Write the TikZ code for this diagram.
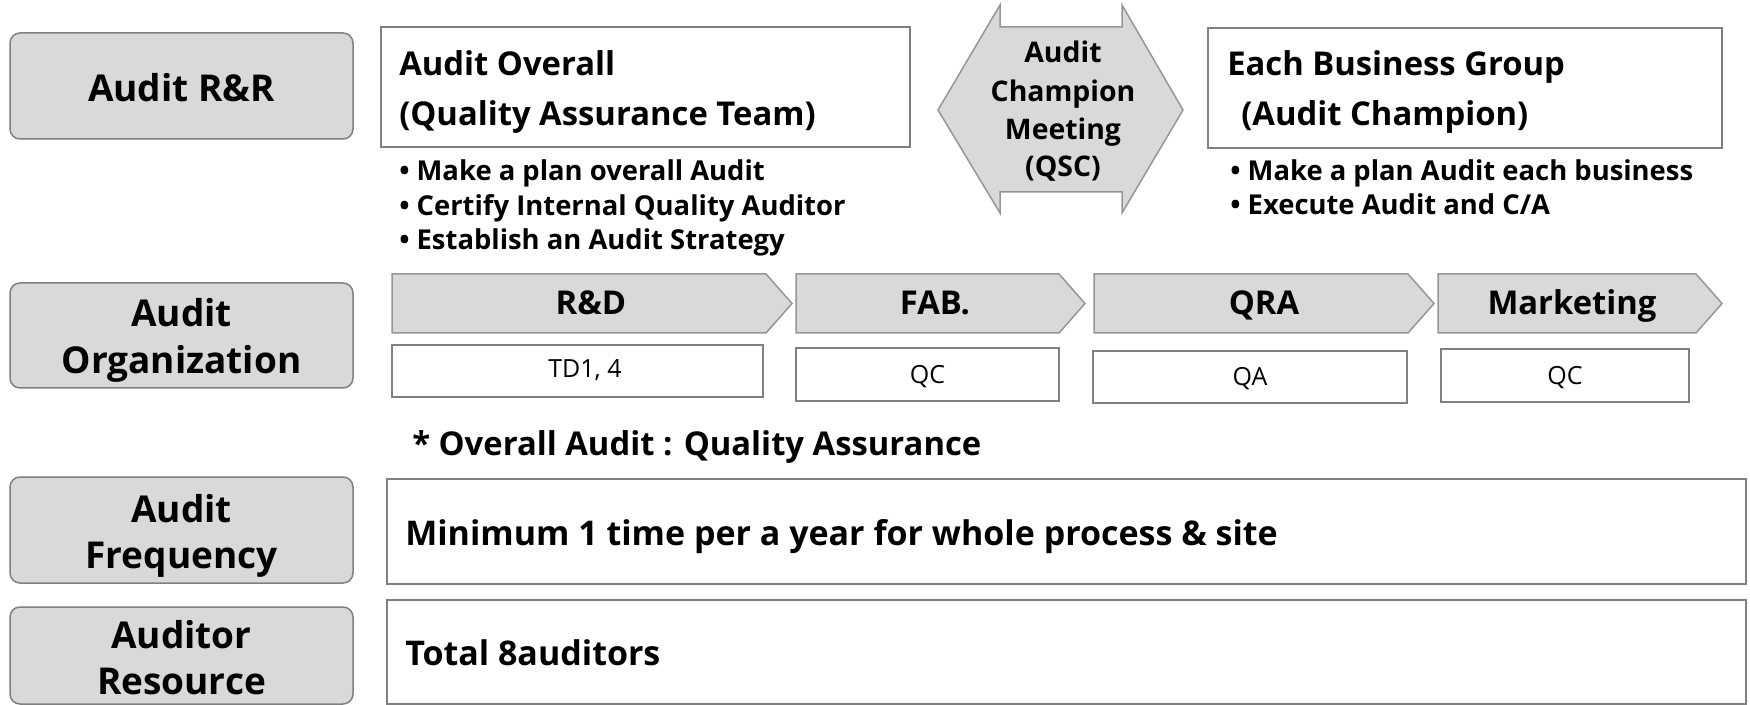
\documentclass[tikz,border=0pt]{standalone}
\usepackage{fontspec}
\setmainfont{Open Sans}

\definecolor{boxgray}{RGB}{217,217,217}
\definecolor{linegray}{RGB}{128,128,128}
\definecolor{arrowgray}{RGB}{150,150,150}

\tikzset{every picture/.style={line width=0.75pt}}
\tikzset{
  labelbox/.style={draw=linegray,fill=boxgray,rounded corners=5pt},
  whitebox/.style={draw=linegray,fill=white},
  arrowbox/.style={draw=arrowgray,fill=boxgray},
  lbl/.style={font=\fontsize{18.5}{22}\selectfont\bfseries},
  hdr/.style={font=\fontsize{16.4}{20}\selectfont\bfseries},
  bul/.style={font=\fontsize{13.7}{17}\selectfont\bfseries},
  qsc/.style={font=\fontsize{14.2}{17}\selectfont\bfseries},
  big/.style={font=\fontsize{17}{20}\selectfont\bfseries},
  sub/.style={font=\fontsize{12.5}{15}\selectfont},
}

\begin{document}
\begin{tikzpicture}[x=0.5pt,y=0.5pt,yscale=-1,xscale=1]
		%set diagram left start at 0, and has height of 705
		\useasboundingbox (0,0) rectangle (1750,705);

		%Rounded Rect (row titles)
		\draw [labelbox] (10,33) rectangle (353,139) ;
		\draw [labelbox] (10,283) rectangle (353,388) ;
		\draw [labelbox] (10,477) rectangle (353,583) ;
		\draw [labelbox] (10,607) rectangle (353,704) ;

		%Shape: Rectangle
		\draw [whitebox] (381,27) rectangle (910,147) ;
		%Shape: Rectangle
		\draw [whitebox] (1208,28) rectangle (1722,148) ;

		%Shape: Left Right Arrow
		\draw [arrowbox] (938,110) -- (1000,5) -- (1000,27) -- (1122,27) -- (1122,5) -- (1183,110) -- (1122,213) -- (1122,192) -- (1000,192) -- (1000,213) -- cycle ;

		%Shape: Pentagon
		\draw [arrowbox] (392,274) -- (766,274) -- (792,303.5) -- (766,333) -- (392,333) -- cycle ;
		%Shape: Pentagon
		\draw [arrowbox] (796,274) -- (1059,274) -- (1085,303.5) -- (1059,333) -- (796,333) -- cycle ;
		%Shape: Pentagon
		\draw [arrowbox] (1094,274) -- (1408,274) -- (1434,303.5) -- (1408,333) -- (1094,333) -- cycle ;
		%Shape: Pentagon
		\draw [arrowbox] (1438,274) -- (1696,274) -- (1722,303.5) -- (1696,333) -- (1438,333) -- cycle ;

		%Shape: Rectangle
		\draw [whitebox] (392,345) rectangle (763,397) ;
		%Shape: Rectangle
		\draw [whitebox] (796,348) rectangle (1059,401) ;
		%Shape: Rectangle
		\draw [whitebox] (1093,351) rectangle (1407,403) ;
		%Shape: Rectangle
		\draw [whitebox] (1441,349) rectangle (1689,402) ;

		%Shape: Rectangle
		\draw [whitebox] (387,479) rectangle (1746,584) ;
		%Shape: Rectangle
		\draw [whitebox] (387,600) rectangle (1746,704) ;

		% Text Node
		\draw (181.5,102) node (rr) [anchor=base][inner sep=0.75pt]  [lbl]  {Audit R\&R};
		% Text Node
		\draw (181.5,327) node (orgA) [anchor=base][inner sep=0.75pt]  [lbl]  {Audit};
		% Text Node
		\draw (181.5,374) node (orgB) [anchor=base][inner sep=0.75pt]  [lbl]  {Organization};
		% Text Node
		\draw (181.5,522) node (freqA) [anchor=base][inner sep=0.75pt]  [lbl]  {Audit};
		% Text Node
		\draw (181.5,568) node (freqB) [anchor=base][inner sep=0.75pt]  [lbl]  {Frequency};
		% Text Node
		\draw (181.5,648) node (resA) [anchor=base][inner sep=0.75pt]  [lbl]  {Auditor};
		% Text Node
		\draw (181.5,694) node (resB) [anchor=base][inner sep=0.75pt]  [lbl]  {Resource};

		% Text Node
		\draw (397,76) node (qaA) [anchor=base west][inner sep=0.75pt]  [hdr]  {Audit Overall};
		% Text Node
		\draw (397,126) node (qaB) [anchor=base west][inner sep=0.75pt]  [hdr]  {(Quality Assurance Team)};
		% Text Node
		\draw (397,181) node (qa1) [anchor=base west][inner sep=0.75pt]  [bul]  {• Make a plan overall Audit};
		% Text Node
		\draw (397,216) node (qa2) [anchor=base west][inner sep=0.75pt]  [bul]  {• Certify Internal Quality Auditor};
		% Text Node
		\draw (397,250) node (qa3) [anchor=base west][inner sep=0.75pt]  [bul]  {• Establish an Audit Strategy};

		% Text Node
		\draw (1063,63) node (qscA) [anchor=base][inner sep=0.75pt]  [qsc]  {Audit};
		% Text Node
		\draw (1063,102) node (qscB) [anchor=base][inner sep=0.75pt]  [qsc]  {Champion};
		% Text Node
		\draw (1063,140) node (qscC) [anchor=base][inner sep=0.75pt]  [qsc]  {Meeting};
		% Text Node
		\draw (1063,177) node (qscD) [anchor=base][inner sep=0.75pt]  [qsc]  {(QSC)};

		% Text Node
		\draw (1225,76) node (bgA) [anchor=base west][inner sep=0.75pt]  [hdr]  {Each Business Group};
		% Text Node
		\draw (1239,126) node (bgB) [anchor=base west][inner sep=0.75pt]  [hdr]  {(Audit Champion)};
		% Text Node
		\draw (1228,181) node (bg1) [anchor=base west][inner sep=0.75pt]  [bul]  {• Make a plan Audit each business};
		% Text Node
		\draw (1228,215) node (bg2) [anchor=base west][inner sep=0.75pt]  [bul]  {• Execute Audit and C/A};

		% Text Node
		\draw (591,315) node (rnd) [anchor=base][inner sep=0.75pt]  [hdr]  {R\&D};
		% Text Node
		\draw (935,315) node (fab) [anchor=base][inner sep=0.75pt]  [hdr]  {FAB.};
		% Text Node
		\draw (1264,315) node (qra) [anchor=base][inner sep=0.75pt]  [hdr]  {QRA};
		% Text Node
		\draw (1572,315) node (mkt) [anchor=base][inner sep=0.75pt]  [hdr]  {Marketing};

		% Text Node
		\draw (585,378) node (rndsub) [anchor=base][inner sep=0.75pt]  [sub]  {TD1, 4};
		% Text Node
		\draw (927.5,384) node (fabsub) [anchor=base][inner sep=0.75pt]  [sub]  {QC};
		% Text Node
		\draw (1250,386) node (qrasub) [anchor=base][inner sep=0.75pt]  [sub]  {QA};
		% Text Node
		\draw (1565,385) node (mktsub) [anchor=base][inner sep=0.75pt]  [sub]  {QC};

		% Text Node
		\draw (410,455) node (note) [anchor=base west][inner sep=0.75pt]  [hdr]  {* Overall Audit : Quality Assurance};
		% Text Node
		\draw (403,545) node (freq) [anchor=base west][inner sep=0.75pt]  [big]  {Minimum 1 time per a year for whole process \& site};
		% Text Node
		\draw (403,665) node (res) [anchor=base west][inner sep=0.75pt]  [big]  {Total 8auditors};

\end{tikzpicture}
\end{document}
